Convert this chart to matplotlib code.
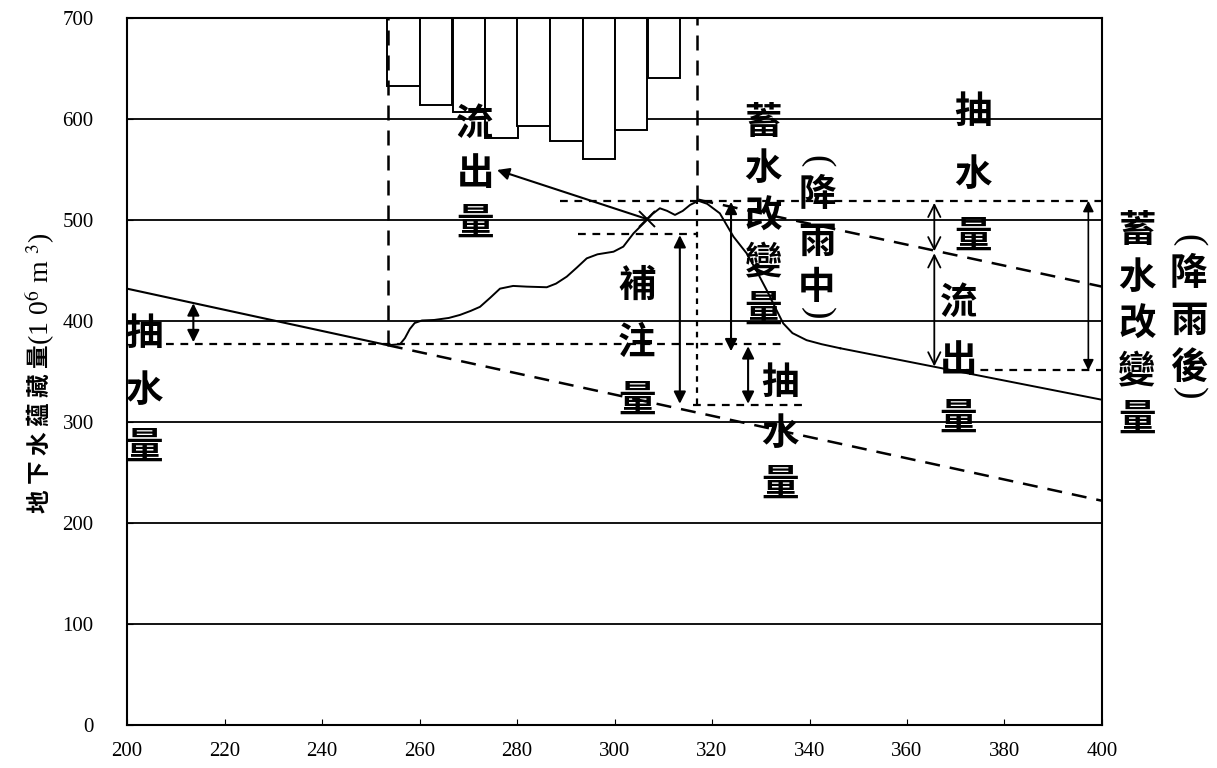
import numpy as np
import matplotlib.pyplot as plt

plt.rcParams['font.family'] = ['Noto Sans CJK TC', 'DejaVu Sans']
plt.rcParams['mathtext.fontset'] = 'stix'

# 降雨量柱 (由上方往下)
bar_x = [256.7, 263.4, 270.1, 276.8, 283.4, 290.1, 296.8, 303.4, 310.1]
bar_bottom = [633, 614, 607, 581, 593, 578, 560, 589, 641]
bar_top = 700
bar_w = 6.67

# 降雨前蘊藏量 (實線) 與其延伸 (虛線)
pre_x = [200, 253.5]
pre_y = [432, 376]
pre_ext_x = [253.5, 400]
pre_ext_y = [376, 222]

# 降雨中蘊藏量曲線
rain_x = [253.5, 256, 257, 258, 259, 260.5, 263, 266, 268.3, 270.5, 272.4, 274.5, 276.5,
          279.2, 282, 286.1, 288, 290.2, 292.3, 294.3, 296.5, 299.8, 301.8, 303.9, 306.3,
          307.8, 309.3, 310.8, 312.4, 314, 315.5, 317.2, 319, 321.6, 324.4, 327.1, 329.2,
          331.2, 333, 334.6, 336.5, 339.4, 342.5, 346.3]
rain_y = [376, 377, 383, 392, 398, 400.5, 401, 403, 406, 410, 414, 423, 432,
          434.7, 434, 433.4, 437, 443.9, 453, 462, 466, 468.6, 473.6, 486.8, 498.3,
          506, 511.6, 509, 505, 509, 514.9, 519, 516, 506.6, 483.5, 467, 449,
          430.7, 413, 397.7, 388, 381, 377, 373]

# 降雨後蘊藏量
post_x = [346.3, 400]
post_y = [373, 322]

# 降雨中趨勢 (虛線)
mid_x = [317.2, 400]
mid_y = [520, 434]

fig = plt.figure(figsize=(12.17, 7.68), dpi=100)
ax = fig.add_axes([0.1044, 0.056, 0.8011, 0.9206])

ax.set_xlim(200, 400)
ax.set_ylim(0, 700)
ax.set_xticks(np.arange(200, 401, 20))
ax.set_yticks(np.arange(0, 701, 100))
for lab in ax.get_xticklabels() + ax.get_yticklabels():
    lab.set_family('Liberation Serif')
    lab.set_fontsize(15)
ax.tick_params(axis='y', direction='in', length=4, pad=24)
ax.tick_params(axis='x', direction='in', length=4, pad=12)
for s in ax.spines.values():
    s.set_linewidth(1.5)

for yv in range(100, 700, 100):
    ax.axhline(yv, color='k', lw=1.3, zorder=1)

ax.bar(bar_x, [bar_top - b for b in bar_bottom], bottom=bar_bottom, width=bar_w,
       facecolor='white', edgecolor='k', linewidth=1.4, zorder=2)

ax.plot(pre_x, pre_y, color='k', lw=1.5, zorder=3)
ax.plot(pre_ext_x, pre_ext_y, color='k', lw=1.8, ls=(0, (6, 4)), zorder=3)
ax.plot(rain_x, rain_y, color='k', lw=1.4, zorder=3)
ax.plot(post_x, post_y, color='k', lw=1.4, zorder=3)
ax.plot(mid_x, mid_y, color='k', lw=1.8, ls=(0, (6, 4)), zorder=3)

# 輔助虛線
hd = dict(color='k', lw=1.6, ls=(0, (3.5, 3)), zorder=3)
ax.plot([208, 335], [377, 377], **hd)
ax.plot([288.8, 400], [519, 519], **hd)
ax.plot([292.5, 317], [486, 486], **hd)
ax.plot([316, 339], [317, 317], **hd)
ax.plot([372, 400], [351, 351], **hd)
ax.plot([253.5, 253.5], [376, 700], color='k', lw=1.8, ls=(0, (6, 4)), zorder=3)
ax.plot([317, 317], [520, 700], color='k', lw=1.8, ls=(0, (6, 4)), zorder=3)
ax.plot([317, 317], [318, 520], color='k', lw=1.6, ls=(0, (2.5, 2.5)), zorder=3)

ax.plot([306.6], [501], marker='x', ms=11, mew=1.4, color='k', zorder=4)


def arrow(x, y1, y2, style='<|-|>', lw=1.5, ms=18):
    ax.annotate('', xy=(x, y2), xytext=(x, y1),
                arrowprops=dict(arrowstyle=style, color='k', lw=lw,
                                mutation_scale=ms, shrinkA=0, shrinkB=0))


arrow(213.6, 417.5, 379)
arrow(313.4, 485, 318)
arrow(323.9, 518, 370)
arrow(327.4, 375, 318)
arrow(365.6, 517, 469, style='<->', lw=1.3, ms=22)
arrow(365.6, 467, 355, style='<->', lw=1.3, ms=22)
arrow(397.2, 519, 351, lw=1.2, ms=16)
ax.annotate('', xy=(275.9, 549.5), xytext=(306.6, 501),
            arrowprops=dict(arrowstyle='-|>', color='k', lw=1.5,
                            mutation_scale=18, shrinkA=0, shrinkB=0))

FS = 27


def vtext(x, y0, chars, step):
    for i, c in enumerate(chars):
        ax.text(x, y0 - i * step, c, ha='center', va='center', fontsize=FS,
                weight='bold', clip_on=False, zorder=5)


def paren(x, y_top, y_bot):
    # 直排括號: 橫躺的 ( 與 )
    ax.text(x, y_top, '(', rotation=-90, ha='center', va='center', fontsize=FS,
            family='Liberation Serif', clip_on=False, zorder=5)
    ax.text(x, y_bot, ')', rotation=-90, ha='center', va='center', fontsize=FS,
            family='Liberation Serif', clip_on=False, zorder=5)


vtext(271.4, 596, '流出量', 49.5)
vtext(203.5, 388, '抽水量', 56.5)
vtext(304.6, 435.6, '補注量', 57)
vtext(330.5, 597, '蓄水改變量', 46.5)
vtext(341.5, 525, '降雨中', 46)
paren(341.5, 558, 408)
vtext(334, 338.6, '抽水量', 50)
vtext(373.5, 607, '抽水量', 61.5)
vtext(370.5, 418.8, '流出量', 57.5)
vtext(407.2, 490, '蓄水改變量', 46.8)
vtext(417.8, 447.5, '降雨後', 46.5)
paren(417.8, 480, 328)

# y 軸標題: 中文部分 + 單位
ax.text(-0.089, 0.538, '地 下 水 蘊 藏 量', rotation=90, rotation_mode='anchor',
        transform=ax.transAxes, ha='right', va='center', fontsize=17, weight='bold')
ax.text(-0.089, 0.538, '(1 0$^{6}$ m $^{3}$)', rotation=90, rotation_mode='anchor',
        transform=ax.transAxes, ha='left', va='center', fontsize=20,
        family='Liberation Serif')

fig.savefig('out.png', dpi=100)
